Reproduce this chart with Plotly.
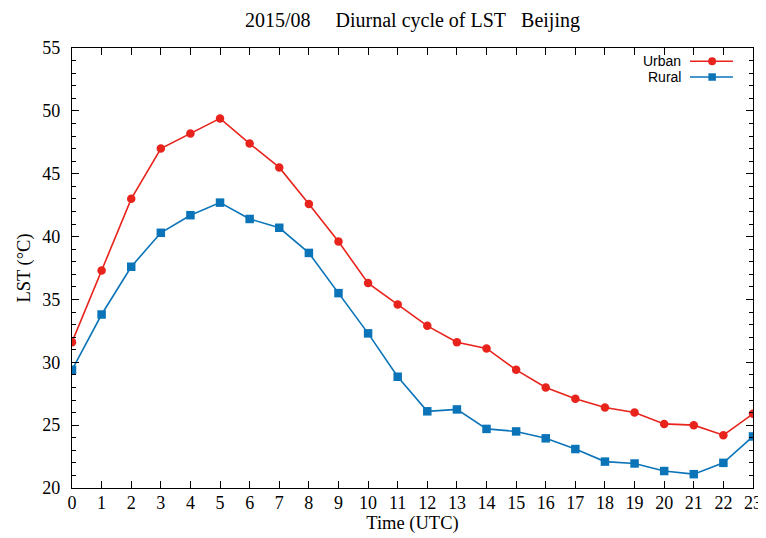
import plotly.graph_objects as go

hours = list(range(24))
urban = [31.6, 37.3, 43.0, 47.0, 48.2, 49.4, 47.4, 45.5, 42.6, 39.6, 36.3, 34.6,
         32.9, 31.6, 31.1, 29.4, 28.0, 27.1, 26.4, 26.0, 25.1, 25.0, 24.2, 25.9]
rural = [29.4, 33.8, 37.6, 40.3, 41.7, 42.7, 41.4, 40.7, 38.7, 35.5, 32.3, 28.85,
         26.1, 26.25, 24.7, 24.5, 23.95, 23.1, 22.1, 21.95, 21.35, 21.1, 22.0, 24.1]
series_names = ["Urban", "Rural"]
red = "#e8231c"
blue = "#0b74b8"

fig = go.Figure()
fig.add_trace(go.Scatter(x=hours, y=urban, mode="lines+markers", name=series_names[0],
                         line=dict(color=red, width=1.6),
                         marker=dict(symbol="circle", size=8.5, color=red),
                         showlegend=False))
fig.add_trace(go.Scatter(x=hours, y=rural, mode="lines+markers", name=series_names[1],
                         line=dict(color=blue, width=1.6),
                         marker=dict(symbol="square", size=8.5, color=blue),
                         showlegend=False))

serif = "Liberation Serif"
sans = "Liberation Sans"

# custom legend (text left of sample, gnuplot style)
leg_y = [0.970, 0.934]
cols = [red, blue]
syms = ["circle", "square"]
for i, nm in enumerate(series_names):
    fig.add_annotation(x=0.897, y=leg_y[i], xref="paper", yref="paper", text=nm,
                       showarrow=False, xanchor="right", yanchor="middle",
                       font=dict(family=sans, size=14, color="black"))
    fig.add_shape(type="line", xref="paper", yref="paper", x0=0.9075, x1=0.9706,
                  y0=leg_y[i], y1=leg_y[i], line=dict(color=cols[i], width=1.6))
    xc = 0.940
    if syms[i] == "circle":
        fig.add_shape(type="circle", xref="paper", yref="paper",
                      x0=xc - 0.0058, x1=xc + 0.0058, y0=leg_y[i] - 0.009, y1=leg_y[i] + 0.009,
                      fillcolor=cols[i], line=dict(color=cols[i], width=0))
    else:
        fig.add_shape(type="rect", xref="paper", yref="paper",
                      x0=xc - 0.0055, x1=xc + 0.0055, y0=leg_y[i] - 0.0085, y1=leg_y[i] + 0.0085,
                      fillcolor=cols[i], line=dict(color=cols[i], width=0))

# page body has an 8px margin, so the figure is sized/positioned to compensate
fig.update_layout(
    width=758, height=530,
    margin=dict(l=64, r=13, t=40, b=50),
    paper_bgcolor="white", plot_bgcolor="white",
    title=dict(text="2015/08&nbsp;&nbsp;&nbsp;&nbsp;&nbsp;Diurnal cycle of LST&nbsp;&nbsp;&nbsp;Beijing",
               x=0.5, xref="paper", xanchor="center", y=0.9774, yref="container", yanchor="middle",
               font=dict(family=serif, size=20, color="black")),
    font=dict(family=serif, size=18, color="black"),
)
fig.update_xaxes(range=[0, 23], tickmode="array", tickvals=hours,
                 ticktext=[str(h) for h in hours],
                 ticks="inside", ticklen=7, tickwidth=1, tickcolor="black",
                 showline=True, linecolor="black", linewidth=1.2, mirror="allticks",
                 showgrid=False, zeroline=False, automargin=False, ticklabelstandoff=-2,
                 title=dict(text="Time (UTC)", font=dict(family=serif, size=18.5), standoff=0),
                 tickfont=dict(family=serif, size=18))
fig.update_yaxes(range=[20, 55], dtick=5, tick0=20,
                 ticks="inside", ticklen=7, tickwidth=1, tickcolor="black",
                 minor=dict(dtick=1, ticks="inside", ticklen=4, tickcolor="black", showgrid=False),
                 showline=True, linecolor="black", linewidth=1.2, mirror="allticks",
                 showgrid=False, zeroline=False, automargin=False, ticklabelstandoff=7,
                 title=dict(text="LST (°C)", font=dict(family=serif, size=18.5), standoff=6),
                 tickfont=dict(family=serif, size=18))

fig.write_html("out.html")
